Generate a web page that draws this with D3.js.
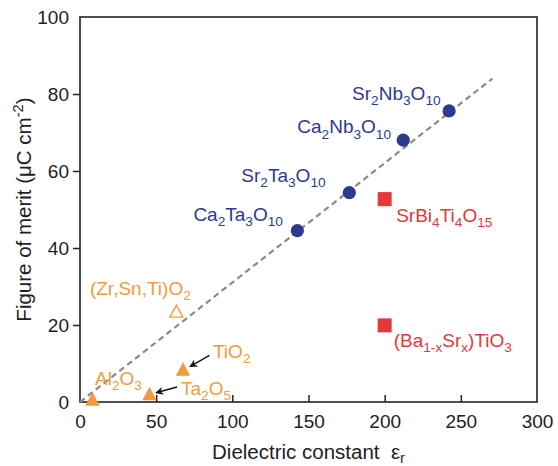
<!DOCTYPE html>
<html>
<head>
<meta charset="utf-8">
<script src="https://cdn.jsdelivr.net/npm/d3@7"></script>
<style>
  body { margin: 0; background: #fff; }
  svg { font-family: "Liberation Sans", Arial, Helvetica, sans-serif; }
</style>
</head>
<body>
<div id="chart"></div>
<script>
// figure of merit vs dielectric constant

var width = 558, height = 466;
var margin = {top: 17, right: 21, bottom: 64, left: 80};

// layered perovskites (blue circles)
var blueNames = ["Ca_{2}Ta_{3}O_{10}", "Sr_{2}Ta_{3}O_{10}", "Ca_{2}Nb_{3}O_{10}", "Sr_{2}Nb_{3}O_{10}"];
var blueEps = [142.7, 176.8, 212.2, 242.3];
var blueFom = [44.5, 54.4, 68.0, 75.6];

// ferroelectrics (red squares)
var redNames = ["SrBi_{4}Ti_{4}O_{15}", "(Ba_{1-x}Sr_{x})TiO_{3}"];
var redEps = [200, 200];
var redFom = [52.7, 19.9];

// simple oxides (orange triangles, last one hollow)
var oxNames = ["Al_{2}O_{3}", "Ta_{2}O_{5}", "TiO_{2}", "(Zr,Sn,Ti)O_{2}"];
var oxEps = [8.2, 45.6, 67.6, 63.3];
var oxFom = [0.8, 2.2, 8.6, 23.6];
var oxHollow = [false, false, false, true];

// dashed guide line
var fitEps = [0, 270.7];
var fitFom = [0, 84];

// arrows [tail eps, tail fom, head eps, head fom]
var arrowTiO2 = [85.0, 12.1, 72.2, 9.2];
var arrowTa2O5 = [63.7, 3.9, 49.9, 2.4];

var xTicks = [0, 50, 100, 150, 200, 250, 300];
var yTicks = [0, 20, 40, 60, 80, 100];

// label offsets in px from the marker
var labelOff = {
  "Sr_{2}Nb_{3}O_{10}": [-97, -11],
  "Ca_{2}Nb_{3}O_{10}": [-106, -7],
  "Sr_{2}Ta_{3}O_{10}": [-108, -11],
  "Ca_{2}Ta_{3}O_{10}": [-104, -10],
  "SrBi_{4}Ti_{4}O_{15}": [11.5, 23],
  "(Ba_{1-x}Sr_{x})TiO_{3}": [9, 21.5],
  "(Zr,Sn,Ti)O_{2}": [-86.5, -16],
  "TiO_{2}": [30, -11],
  "Al_{2}O_{3}": [2.5, -14],
  "Ta_{2}O_{5}": [31.5, 1.5]
};

var BLUE = "#2d3a8e", RED = "#e3393a", ORANGE = "#f29b3e";

var svg = d3.select("#chart").append("svg")
  .attr("width", width).attr("height", height);

var x = d3.scaleLinear().domain([0, 300]).range([margin.left, width - margin.right]);
var y = d3.scaleLinear().domain([0, 100]).range([height - margin.bottom, margin.top]);

// writes "A_{2}B^{-2}" as tspans
function richText(sel, str, size, subK) {
  var k = subK || 0.28;
  var parts = str.split(/([_^]\{[^}]*\})/).filter(function(s) { return s.length; });
  var shift = 0;
  parts.forEach(function(p) {
    var m = p.match(/^([_^])\{([^}]*)\}$/);
    if (m) {
      var off = m[1] == "_" ? size * k : -size * 0.38;
      sel.append("tspan").attr("dy", off - shift).attr("font-size", size * 0.72).text(m[2]);
      shift = off;
    } else {
      sel.append("tspan").attr("dy", -shift).attr("font-size", size).text(p);
      shift = 0;
    }
  });
}

// axes
var xAxis = d3.axisBottom(x).tickValues(xTicks).tickSizeInner(-7).tickSizeOuter(0).tickPadding(13);
var yAxis = d3.axisLeft(y).tickValues(yTicks).tickSizeInner(7).tickSizeOuter(0).tickPadding(4);

var gx = svg.append("g").attr("transform", "translate(0," + y(0) + ")").call(xAxis);
var gy = svg.append("g").attr("transform", "translate(" + x(0) + ",0)").call(yAxis);
[gx, gy].forEach(function(g) {
  g.select(".domain").remove();
  g.selectAll(".tick line").attr("stroke", "#222").attr("stroke-width", 1.5);
  g.selectAll(".tick text").attr("font-size", 19).attr("fill", "#222")
    .attr("font-family", "Liberation Sans, Arial, sans-serif");
  g.selectAll(".tick").filter(function(d, i, n) { return i == 0 || i == n.length - 1; })
    .select("line").remove();
});

// frame
svg.append("rect")
  .attr("x", x(0)).attr("y", y(100))
  .attr("width", x(300) - x(0)).attr("height", y(0) - y(100))
  .attr("fill", "none").attr("stroke", "#222").attr("stroke-width", 1.6);

// axis titles
var xt = svg.append("text").attr("x", (x(0) + x(300)) / 2).attr("y", 459)
  .attr("text-anchor", "middle").attr("fill", "#222").style("white-space", "pre");
richText(xt, "Dielectric constant  \u03b5_{r}", 20.5, 0.2);

var yt = svg.append("text")
  .attr("transform", "translate(31," + ((y(0) + y(100)) / 2) + ") rotate(-90)")
  .attr("text-anchor", "middle").attr("fill", "#222");
richText(yt, "Figure of merit (\u03bcC cm^{-2})", 20.5);

// dashed line
var fit = fitEps.map(function(e, i) { return [e, fitFom[i]]; });
svg.append("path")
  .attr("d", d3.line().x(function(d) { return x(d[0]); }).y(function(d) { return y(d[1]); })(fit))
  .attr("fill", "none").attr("stroke", "#8a8a8a").attr("stroke-width", 2.2)
  .attr("stroke-dasharray", "6,4");

// arrows
svg.append("defs").append("marker")
  .attr("id", "ah").attr("viewBox", "0 0 10 10").attr("refX", 9).attr("refY", 5)
  .attr("markerWidth", 8).attr("markerHeight", 8).attr("markerUnits", "userSpaceOnUse")
  .attr("orient", "auto")
  .append("path").attr("d", "M0,0L10,5L0,10L3,5Z").attr("fill", "#111");

[arrowTiO2, arrowTa2O5].forEach(function(a) {
  svg.append("line")
    .attr("x1", x(a[0])).attr("y1", y(a[1])).attr("x2", x(a[2])).attr("y2", y(a[3]))
    .attr("stroke", "#111").attr("stroke-width", 1.4).attr("marker-end", "url(#ah)");
});

// markers
var blue = blueNames.map(function(n, i) { return {name: n, e: blueEps[i], f: blueFom[i]}; });
var red = redNames.map(function(n, i) { return {name: n, e: redEps[i], f: redFom[i]}; });
var ox = oxNames.map(function(n, i) { return {name: n, e: oxEps[i], f: oxFom[i], hollow: oxHollow[i]}; });

svg.append("g").selectAll("circle").data(blue).enter().append("circle")
  .attr("cx", function(d) { return x(d.e); })
  .attr("cy", function(d) { return y(d.f); })
  .attr("r", 6.6).attr("fill", BLUE);

svg.append("g").selectAll("rect").data(red).enter().append("rect")
  .attr("x", function(d) { return x(d.e) - 7; })
  .attr("y", function(d) { return y(d.f) - 7; })
  .attr("width", 14).attr("height", 14).attr("fill", RED);

svg.append("g").selectAll("path").data(ox).enter().append("path")
  .attr("transform", function(d) { return "translate(" + x(d.e) + "," + y(d.f) + ")"; })
  .attr("d", function(d) { return d.hollow ? "M0,-6L6.5,6L-6.5,6Z" : "M0,-6.8L7.2,6.8L-7.2,6.8Z"; })
  .attr("fill", function(d) { return d.hollow ? "none" : ORANGE; })
  .attr("stroke", ORANGE).attr("stroke-width", function(d) { return d.hollow ? 1.4 : 0; });

// labels
function addLabels(data, color) {
  data.forEach(function(d) {
    var o = labelOff[d.name];
    var t = svg.append("text")
      .attr("x", x(d.e) + o[0]).attr("y", y(d.f) + o[1]).attr("fill", color);
    richText(t, d.name, 19);
  });
}
addLabels(blue, BLUE);
addLabels(red, RED);
addLabels(ox, ORANGE);
</script>
</body>
</html>
